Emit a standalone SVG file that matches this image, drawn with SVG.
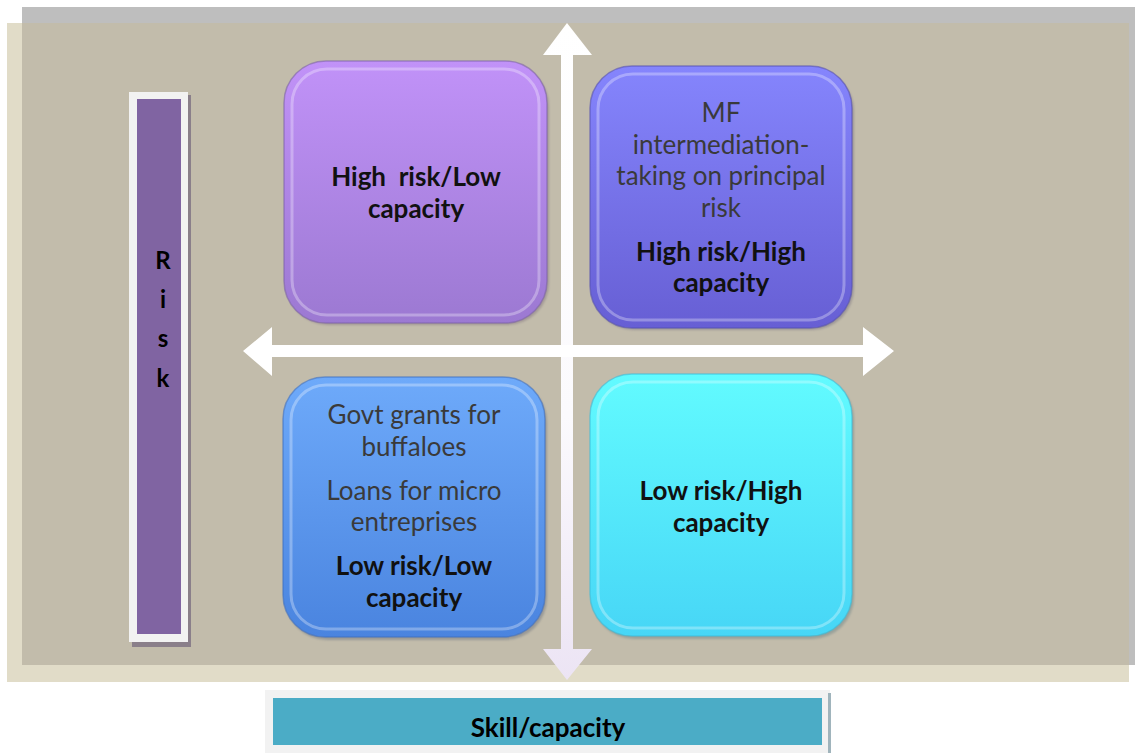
<svg xmlns="http://www.w3.org/2000/svg" width="1135" height="753" viewBox="0 0 1135 753">
  <style>
    .t { font-family: Lato, "Open Sans", "Liberation Sans", sans-serif; font-size: 26px; text-anchor: middle; fill: #3a3a3a; white-space: pre; }
    .b { font-weight: bold; fill: #111; }
    .axis { font-family: Lato, "Liberation Sans", sans-serif; font-size: 24px; font-weight: bold; text-anchor: middle; fill: #000; }
    .skill { font-size: 26px; }
    .gloss { fill: none; stroke: #fff; stroke-width: 3; stroke-opacity: 0.3; }
    .rim { stroke-width: 1.5; stroke-opacity: 0.6; }
  </style>
  <defs>
    <linearGradient id="gPurple" x1="0" y1="0" x2="0" y2="1">
      <stop offset="0" stop-color="#c192f8"/>
      <stop offset="1" stop-color="#9c79d2"/>
    </linearGradient>
    <linearGradient id="gViolet" x1="0" y1="0" x2="0" y2="1">
      <stop offset="0" stop-color="#8585fd"/>
      <stop offset="1" stop-color="#675fd4"/>
    </linearGradient>
    <linearGradient id="gBlue" x1="0" y1="0" x2="0" y2="1">
      <stop offset="0" stop-color="#6eaafa"/>
      <stop offset="1" stop-color="#4a84df"/>
    </linearGradient>
    <linearGradient id="gCyan" x1="0" y1="0" x2="0" y2="1">
      <stop offset="0" stop-color="#62fbff"/>
      <stop offset="1" stop-color="#47d6f6"/>
    </linearGradient>
    <linearGradient id="gArrowV" x1="0" y1="0" x2="0" y2="1">
      <stop offset="0" stop-color="#ffffff"/>
      <stop offset="0.6" stop-color="#fbfafd"/>
      <stop offset="1" stop-color="#ece4f4"/>
    </linearGradient>
    <filter id="soft" x="-10%" y="-10%" width="120%" height="120%">
      <feGaussianBlur stdDeviation="1.2"/>
    </filter>
    <clipPath id="skillClip">
      <rect x="273" y="698" width="549" height="47"/>
    </clipPath>
  </defs>

  <!-- backdrop panels -->
  <rect x="0" y="0" width="1135" height="753" fill="#fff"/>
  <rect x="7" y="23" width="1122" height="659" fill="#e1dcc8"/>
  <rect x="22" y="7" width="1113" height="658" fill="#bebebe"/>
  <rect x="22" y="23" width="1107" height="642" fill="#c2bcab"/>

  <!-- vertical axis label -->
  <g id="risk-axis">
    <rect x="132" y="95" width="59" height="552" fill="#8a7f8a"/>
    <rect x="129" y="92" width="59" height="550" fill="#f2f2f2"/>
    <rect x="137" y="99" width="44" height="535" fill="#8064a2"/>
    <text class="axis" x="163" y="269">R</text>
    <text class="axis" x="163" y="308">i</text>
    <text class="axis" x="163" y="347">s</text>
    <text class="axis" x="163" y="387">k</text>
  </g>

  <!-- horizontal axis label -->
  <g id="skill-axis">
    <rect x="265" y="690" width="565" height="63" fill="#f2f2f2"/>
    <rect x="828" y="693" width="3" height="60" fill="#a0b4bc"/>
    <rect x="273" y="698" width="549" height="47" fill="#4bacc6"/>
    <text class="axis skill" x="548" y="737" clip-path="url(#skillClip)">Skill/capacity</text>
  </g>

  <!-- quadrant nodes -->
  <g id="q-high-risk-low-capacity">
    <rect x="286" y="64" width="263" height="261" rx="42" fill="#6a5a70" opacity="0.35" filter="url(#soft)"/>
    <rect x="284" y="61" width="263" height="262" rx="42" fill="url(#gPurple)" class="rim" stroke="#7d62a8"/>
    <rect x="292" y="69" width="247" height="246" rx="35" class="gloss"/>
    <text class="t b" x="416" y="186">High  risk/Low</text>
    <text class="t b" x="416" y="218">capacity</text>
  </g>

  <g id="q-high-risk-high-capacity">
    <rect x="592" y="69" width="262" height="261" rx="42" fill="#5a5470" opacity="0.35" filter="url(#soft)"/>
    <rect x="590" y="66" width="262" height="262" rx="42" fill="url(#gViolet)" class="rim" stroke="#5550b0"/>
    <rect x="598" y="74" width="246" height="246" rx="35" class="gloss"/>
    <text class="t" x="721" y="122">MF</text>
    <text class="t" x="721" y="154">intermediation-</text>
    <text class="t" x="721" y="185">taking on principal</text>
    <text class="t" x="721" y="217">risk</text>
    <text class="t b" x="721" y="261">High risk/High</text>
    <text class="t b" x="721" y="292">capacity</text>
  </g>

  <g id="q-low-risk-low-capacity">
    <rect x="285" y="380" width="262" height="260" rx="42" fill="#505a70" opacity="0.35" filter="url(#soft)"/>
    <rect x="283" y="377" width="262" height="260" rx="42" fill="url(#gBlue)" class="rim" stroke="#3f6fc0"/>
    <rect x="291" y="385" width="246" height="244" rx="35" class="gloss"/>
    <text class="t" x="414" y="424">Govt grants for</text>
    <text class="t" x="414" y="456">buffaloes</text>
    <text class="t" x="414" y="500">Loans for micro</text>
    <text class="t" x="414" y="531">entreprises</text>
    <text class="t b" x="414" y="575">Low risk/Low</text>
    <text class="t b" x="414" y="607">capacity</text>
  </g>

  <g id="q-low-risk-high-capacity">
    <rect x="592" y="377" width="262" height="262" rx="42" fill="#50707a" opacity="0.35" filter="url(#soft)"/>
    <rect x="590" y="374" width="262" height="262" rx="42" fill="url(#gCyan)" class="rim" stroke="#3cbcd8"/>
    <rect x="598" y="382" width="246" height="246" rx="35" class="gloss"/>
    <text class="t b" x="721" y="500">Low risk/High</text>
    <text class="t b" x="721" y="532">capacity</text>
  </g>

  <!-- axes -->
  <g id="connectors">
    <polygon points="567,23 592,55 573,55 573,649 592,649 567,680 543,649 561,649 561,55 543,55" fill="url(#gArrowV)"/>
    <polygon points="243,351 272,327 272,345 863,345 863,327 894,351 863,376 863,357 272,357 272,376" fill="#ffffff"/>
  </g>
</svg>
